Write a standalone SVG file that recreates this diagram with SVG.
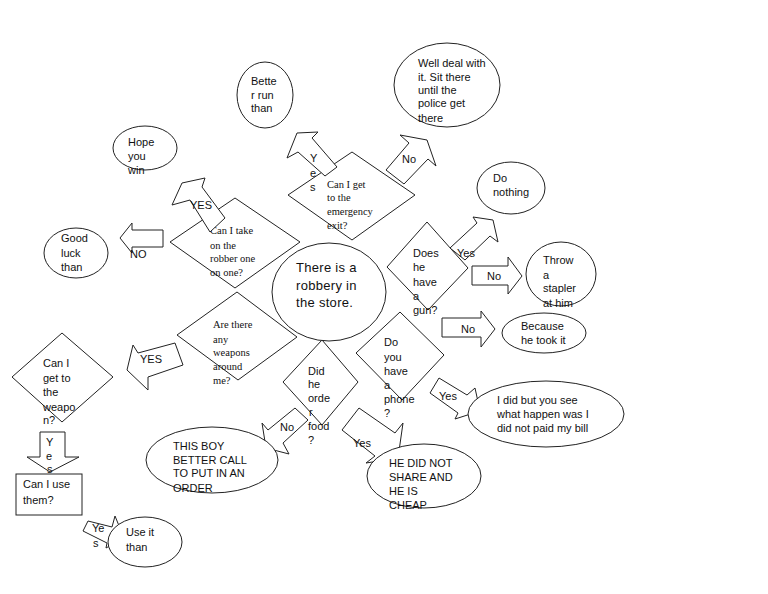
<svg xmlns="http://www.w3.org/2000/svg" width="768" height="594" viewBox="0 0 768 594">
<style>
.s{fill:#fff;stroke:#222;stroke-width:1}
.a{fill:#fff;stroke:#222;stroke-width:1;stroke-linejoin:miter}
.t{font-family:"Liberation Sans",Arial,sans-serif;font-size:11px;fill:#111}
.r{font-family:"Liberation Serif","Times New Roman",serif;font-size:10.5px;fill:#111}
.c{font-family:"Liberation Sans",Arial,sans-serif;font-size:13px;fill:#111;letter-spacing:0.3px}
</style>
<rect width="768" height="594" fill="#fff"/>

<g id="d-take"><polygon class="s" points="235,198 300,242 235,288 170,242"/>
  <text class="r"><tspan x="210" y="234">Can I take</tspan><tspan x="210" y="249">on the</tspan><tspan x="210" y="262">robber one</tspan><tspan x="210" y="276">on one?</tspan></text></g>
<g id="d-exit"><polygon class="s" points="352,152 415,195 352,240 288,195"/>
  <text class="r"><tspan x="327" y="188">Can I get</tspan><tspan x="327" y="201">to the</tspan><tspan x="327" y="215">emergency</tspan><tspan x="327" y="229">exit?</tspan></text></g>
<g id="d-weapons"><polygon class="s" points="237,292 297,337 238,380 177,335"/>
  <text class="r"><tspan x="213" y="328">Are there</tspan><tspan x="213" y="343">any</tspan><tspan x="213" y="356">weapons</tspan><tspan x="213" y="370">around</tspan><tspan x="213" y="384">me?</tspan></text></g>
<g id="d-gun"><polygon class="s" points="427,222 468,268 428,310 387,267"/>
  <text class="t"><tspan x="413" y="257">Does</tspan><tspan x="413" y="271">he</tspan><tspan x="413" y="286">have</tspan><tspan x="413" y="300">a</tspan><tspan x="413" y="314">gun?</tspan></text></g>
<g id="d-phone"><polygon class="s" points="400,312 444,355 402,400 356,353"/>
  <text class="t"><tspan x="384" y="346">Do</tspan><tspan x="384" y="361">you</tspan><tspan x="384" y="375">have</tspan><tspan x="384" y="389">a</tspan><tspan x="384" y="403">phone</tspan><tspan x="384" y="417">?</tspan></text></g>
<g id="d-order"><polygon class="s" points="322,340 358,382 322,425 283,382"/>
  <text class="t"><tspan x="308" y="375">Did</tspan><tspan x="308" y="388">he</tspan><tspan x="308" y="402">orde</tspan><tspan x="309" y="416">r</tspan><tspan x="308" y="430">food</tspan><tspan x="308" y="444">?</tspan></text></g>
<g id="d-weapon"><polygon class="s" points="62,333 113,377 62,422 12,377"/>
  <text class="t"><tspan x="43" y="367">Can I</tspan><tspan x="43" y="382">get to</tspan><tspan x="43" y="396">the</tspan><tspan x="43" y="411">weapo</tspan><tspan x="43" y="424">n?</tspan></text></g>

<g id="connectors">
  <g id="arrow-yes-exit"><polygon class="a" points="287,158 297,133 318,132 312,138 337,167 325,176 298,152"/>
    <text class="t"><tspan x="310" y="162">Y</tspan><tspan x="310" y="177">e</tspan><tspan x="310" y="191">s</tspan></text></g>
  <g id="arrow-no-exit"><polygon class="a" points="400,135 427,140 436,166 428,159 404,184 386,170 409,143"/>
    <text class="t" x="402" y="163">No</text></g>
  <g id="arrow-yes-take"><polygon class="a" points="172,205 182,183 205,178 202,187 225,218 210,232 190,200"/>
    <text class="t" x="190" y="209">YES</text></g>
  <g id="arrow-no-take"><polygon class="a" points="120,238 132,223 132,230 163,230 163,247 132,247 132,253"/>
    <text class="t" x="130" y="258">NO</text></g>
  <g id="arrow-yes-gun"><polygon class="a" points="450,248 477,223 473,217 493,220 498,242 490,236 465,260"/>
    <text class="t" x="457" y="257">Yes</text></g>
  <g id="arrow-no-gun"><polygon class="a" points="472,266 508,266 508,257 522,276 508,294 508,285 472,285"/>
    <text class="t" x="487" y="280">No</text></g>
  <g id="arrow-no-took"><polygon class="a" points="442,318 481,318 481,311 495,329 481,347 481,337 442,337"/>
    <text class="t" x="461" y="333">No</text></g>
  <g id="arrow-yes-phone"><polygon class="a" points="430,393 439,378 467,395 475,388 480,411 455,419 458,413"/>
    <text class="t" x="439" y="400">Yes</text></g>
  <g id="arrow-no-order"><polygon class="a" points="262,423 268,430 295,408 308,420 283,443 289,454 266,448"/>
    <text class="t" x="280" y="431">No</text></g>
  <g id="arrow-yes-order"><polygon class="a" points="342,430 359,408 395,433 403,423 398,458 366,463 375,456"/>
    <text class="t" x="353" y="447">Yes</text></g>
  <g id="arrow-yes-weapons"><polygon class="a" points="127,370 133,345 138,353 175,343 183,365 148,377 148,390"/>
    <text class="t" x="140" y="363">YES</text></g>
  <g id="arrow-yes-weapon"><polygon class="a" points="40,432 65,432 65,457 79,457 50,472 27,457 40,457"/>
    <text class="t"><tspan x="46" y="446">Y</tspan><tspan x="46" y="460">e</tspan><tspan x="47" y="473">s</tspan></text></g>
  <g id="arrow-yes-use"><polygon class="a" points="83,531 88,521 112,527 115,516 124,538 106,548 107,543"/>
    <text class="t"><tspan x="92" y="532">Ye</tspan><tspan x="93" y="547">s</tspan></text></g>
</g>

<g id="start"><ellipse class="s" cx="329" cy="292" rx="57" ry="49"/>
  <text class="c"><tspan x="296" y="272">There is a</tspan><tspan x="296" y="290">robbery in</tspan><tspan x="296" y="307">the store.</tspan></text></g>

<g id="e-better"><ellipse class="s" cx="265" cy="95" rx="28" ry="33"/>
  <text class="t"><tspan x="251" y="85">Bette</tspan><tspan x="251" y="99">r run</tspan><tspan x="251" y="112">than</tspan></text></g>
<g id="e-well"><ellipse class="s" cx="447" cy="85" rx="53" ry="42"/>
  <text class="t"><tspan x="418" y="67">Well deal with</tspan><tspan x="418" y="81">it. Sit there</tspan><tspan x="418" y="94">until the</tspan><tspan x="418" y="107">police get</tspan><tspan x="418" y="122">there</tspan></text></g>
<g id="e-hope"><ellipse class="s" cx="145" cy="148" rx="32" ry="22"/>
  <text class="t"><tspan x="128" y="146">Hope</tspan><tspan x="128" y="160">you</tspan><tspan x="128" y="174">win</tspan></text></g>
<g id="e-good"><ellipse class="s" cx="76" cy="253" rx="32" ry="25"/>
  <text class="t"><tspan x="61" y="242">Good</tspan><tspan x="61" y="257">luck</tspan><tspan x="61" y="271">than</tspan></text></g>
<g id="e-nothing"><ellipse class="s" cx="511" cy="188" rx="34" ry="26"/>
  <text class="t"><tspan x="493" y="182">Do</tspan><tspan x="493" y="196">nothing</tspan></text></g>
<g id="e-throw"><ellipse class="s" cx="561" cy="274" rx="35" ry="32"/>
  <text class="t"><tspan x="543" y="264">Throw</tspan><tspan x="543" y="279">a</tspan><tspan x="543" y="292">stapler</tspan><tspan x="543" y="307">at him</tspan></text></g>
<g id="e-because"><ellipse class="s" cx="544" cy="333" rx="42" ry="20"/>
  <text class="t"><tspan x="521" y="330">Because</tspan><tspan x="521" y="344">he took it</tspan></text></g>
<g id="e-bill"><ellipse class="s" cx="546" cy="414" rx="78" ry="33"/>
  <text class="t"><tspan x="497" y="404">I did but you see</tspan><tspan x="497" y="418">what happen was I</tspan><tspan x="497" y="432">did not paid my bill</tspan></text></g>
<g id="e-share"><ellipse class="s" cx="424" cy="476" rx="57" ry="32"/>
  <text class="t"><tspan x="389" y="467">HE DID NOT</tspan><tspan x="389" y="481">SHARE AND</tspan><tspan x="389" y="495">HE IS</tspan><tspan x="389" y="509">CHEAP</tspan></text></g>
<g id="e-boy"><ellipse class="s" cx="212" cy="460" rx="66" ry="33"/>
  <text class="t"><tspan x="173" y="450">THIS BOY</tspan><tspan x="173" y="464">BETTER CALL</tspan><tspan x="173" y="477">TO PUT IN AN</tspan><tspan x="173" y="492">ORDER</tspan></text></g>

<g id="b-use"><rect class="s" x="16" y="474" width="66" height="41"/>
  <text class="t"><tspan x="23" y="488">Can I use</tspan><tspan x="23" y="504">them?</tspan></text></g>
<g id="e-useit"><ellipse class="s" cx="145" cy="542" rx="37" ry="25"/>
  <text class="t"><tspan x="126" y="536">Use it</tspan><tspan x="126" y="551">than</tspan></text></g>
</svg>
